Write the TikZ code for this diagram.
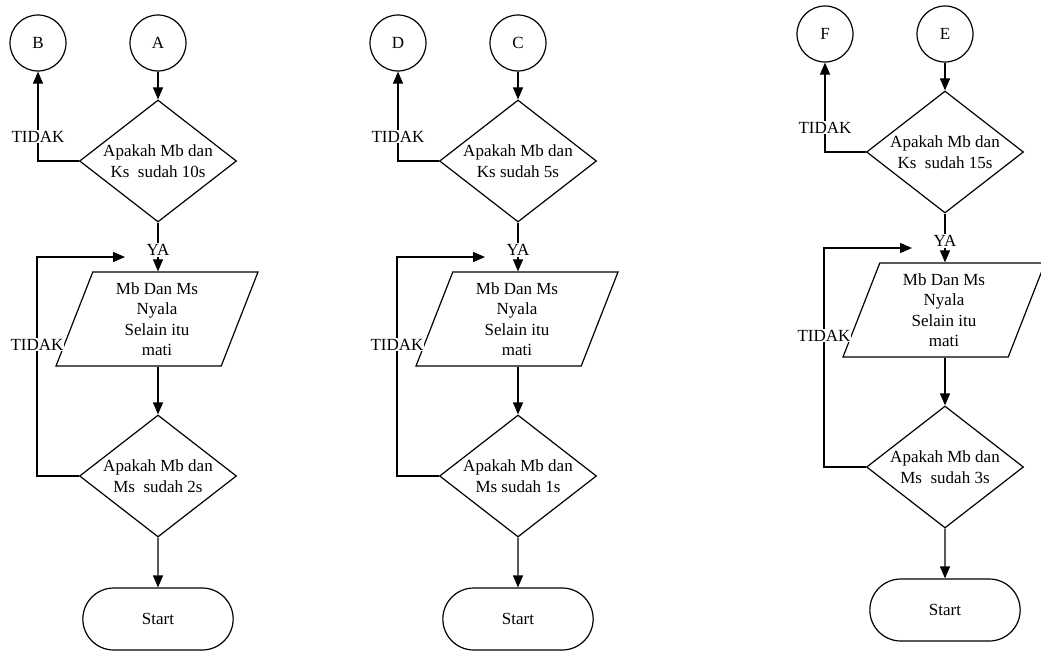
\documentclass[tikz,border=0pt]{standalone}
\usepackage{fontspec}
\setmainfont{Liberation Serif}
\usetikzlibrary{shapes.geometric,shapes.misc,arrows.meta}
\newcommand\zw[1]{\makebox[0pt]{#1}}
\newcommand\flowcol[7]{%
 \begin{scope}[shift={(#2,#3)}]
  \node[conn] (#1l) at (38,43) {#4};
  \node[conn] (#1r) at (158,43) {#5};
  \node[dec] (#1d1) at (158,161) {\zw{Apakah Mb dan}\\\zw{#6}};
  \node[io] (#1p) at (157,319) {Mb Dan Ms\\Nyala\\Selain itu\\mati};
  \node[dec] (#1d2) at (158,476) {\zw{Apakah Mb dan}\\\zw{#7}};
  \node[term] (#1t) at (158,619) {Start};
  \coordinate (#1c1) at (38,161);
  \coordinate (#1c2) at (37,476);
  \coordinate (#1c3) at (37,257);
  \coordinate (#1c4) at (125,257);
  \draw[arr] (#1r) -- (#1d1);
  \draw[arr] (#1d1.west) -- (#1c1) -- node[lbl,pos=0.27]{TIDAK} (#1l);
  \draw[arr] (#1d1) -- node[lbl,pos=0.56]{YA} (#1d1 |- #1p.north);
  \draw[arr] (#1p.south -| #1d2) -- (#1d2);
  \draw[arr] (#1d2.west) -- (#1c2) -- node[lbl,pos=0.6]{TIDAK} (#1c3) -- (#1c4);
  \draw[arr] (#1d2) -- (#1t);
 \end{scope}}
\begin{document}
\begin{tikzpicture}[x=1pt,y=-1pt,line width=1.2pt,
  font=\fontsize{17}{20.5}\selectfont,
  conn/.style={circle,draw,minimum size=56pt,inner sep=0pt},
  dec/.style={diamond,draw,minimum width=157pt,minimum height=122pt,inner sep=0pt,align=center},
  io/.style={trapezium,draw,trapezium left angle=63.4,trapezium right angle=116.6,
    trapezium stretches body=true,minimum width=202pt,minimum height=94pt,inner sep=0pt,align=center},
  term/.style={rounded rectangle,draw,minimum width=157pt,minimum height=62pt},
  lbl/.style={fill=white,inner xsep=0.5pt,inner ysep=1pt},
  arr/.style={-{Triangle[length=12pt,width=10pt]}}]
\useasboundingbox (0,0) rectangle (1041,651);
\flowcol{a}{0}{0}{B}{A}{Ks~~sudah 10s}{Ms~~sudah 2s}
\flowcol{b}{360}{0}{D}{C}{Ks sudah 5s}{Ms sudah 1s}
\flowcol{c}{787}{-9}{F}{E}{Ks~~sudah 15s}{Ms~~sudah 3s}
\end{tikzpicture}
\end{document}
